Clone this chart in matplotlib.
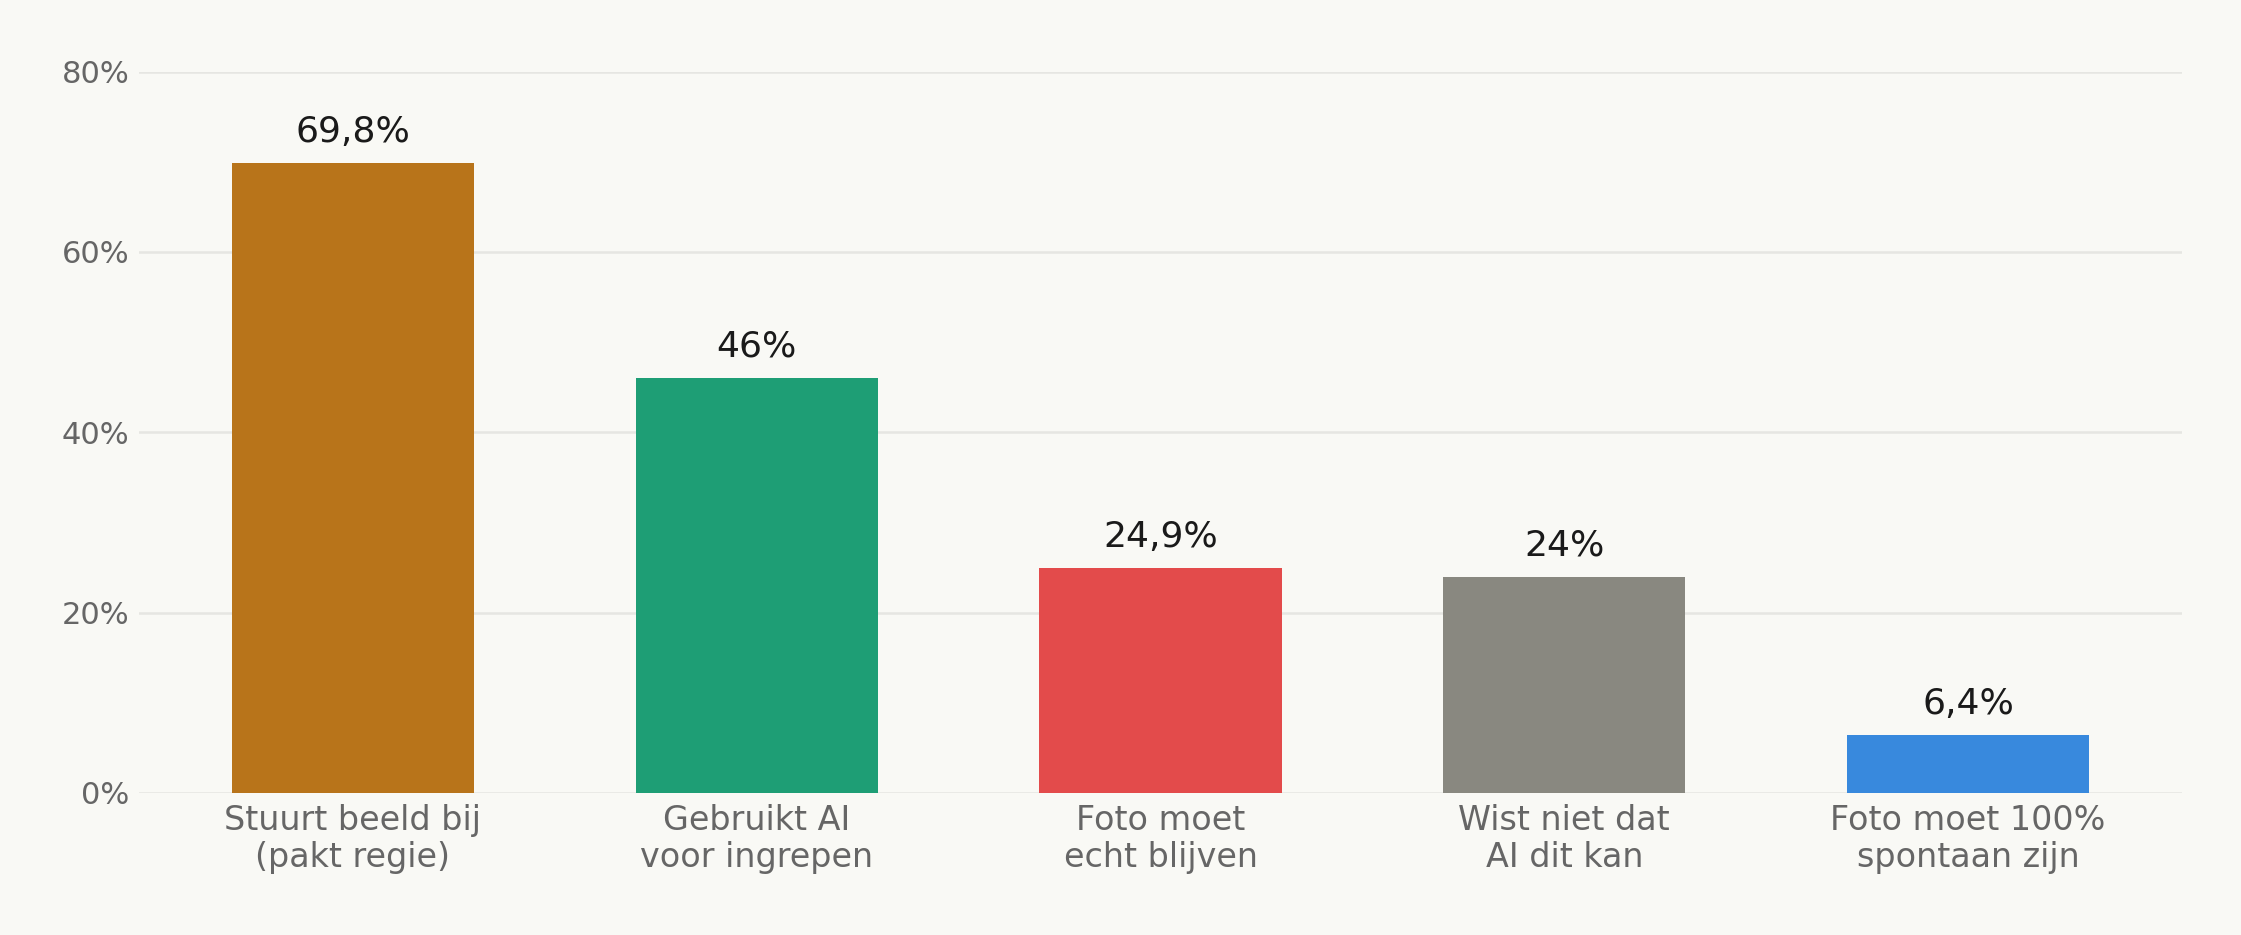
import matplotlib.pyplot as plt
from matplotlib.ticker import FuncFormatter

categories = ["Stuurt beeld bij\n(pakt regie)", "Gebruikt AI\nvoor ingrepen",
              "Foto moet\necht blijven", "Wist niet dat\nAI dit kan",
              "Foto moet 100%\nspontaan zijn"]
values = [69.8, 46.0, 24.9, 24.0, 6.4]
value_labels = ["69,8%", "46%", "24,9%", "24%", "6,4%"]
colors = ["#B8741A", "#1E9E75", "#E34B4B", "#898880", "#3889DD"]
yticks = [0, 20, 40, 60, 80]

bg = "#F9F9F5"
fig = plt.figure(figsize=(22.41, 9.35), dpi=100, facecolor=bg)
ax = fig.add_axes([139 / 2241, 1 - 793 / 935, (2182 - 139) / 2241, (793 - 71.5) / 935])
ax.set_facecolor(bg)

x = range(len(values))
bars = ax.bar(x, values, width=0.6, color=colors, zorder=2)
for b, lab in zip(bars, value_labels):
    ax.text(b.get_x() + b.get_width() / 2, b.get_height() + 1.6, lab,
            ha="center", va="bottom", fontsize=26, color="#1a1a1a")

ax.set_ylim(0, 80)
ax.set_xlim(-0.53, 4.53)
ax.set_yticks(yticks)
ax.yaxis.set_major_formatter(FuncFormatter(lambda v, p: f"{v:.0f}%"))
ax.set_xticks(list(x))
ax.set_xticklabels(categories, fontsize=24, color="#666666", linespacing=1.15)
ax.tick_params(axis="y", labelsize=22, labelcolor="#666666", length=0, pad=7)
ax.tick_params(axis="x", length=0, pad=8)
ax.grid(axis="y", color="#E6E6E2", linewidth=1.8, zorder=0)
ax.set_axisbelow(True)
for s in ax.spines.values():
    s.set_visible(False)

fig.savefig("out.png", dpi=100, facecolor=bg)
